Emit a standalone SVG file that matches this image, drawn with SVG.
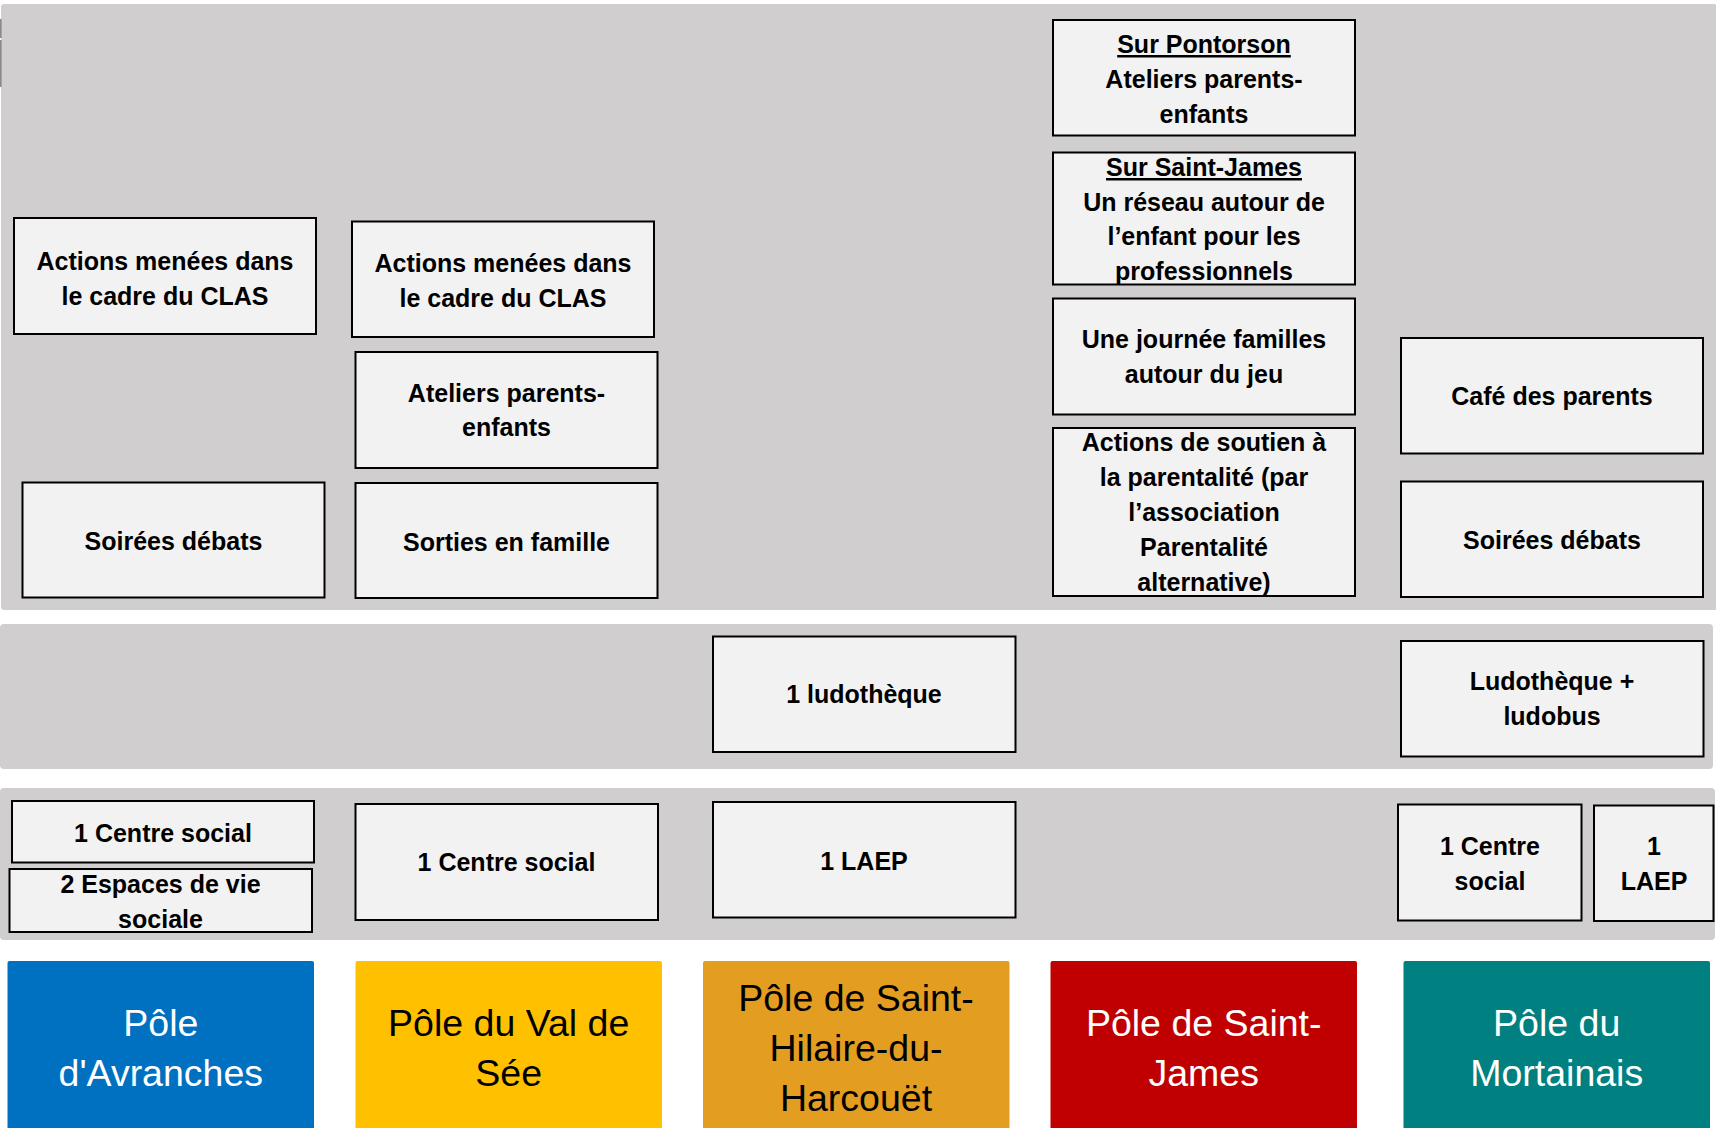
<svg xmlns="http://www.w3.org/2000/svg" width="1716" height="1128" viewBox="0 0 1716 1128">
<style>
.band{fill:#D0CECE}
.box{fill:#F2F2F2;stroke:#000;stroke-width:2}
.t{font-family:"Liberation Sans",Arial,sans-serif;font-weight:bold;font-size:25px;fill:#000;text-anchor:middle}
.u{text-decoration:underline}
.p{font-family:"Liberation Sans",Arial,sans-serif;font-size:37.5px;fill:#fff;text-anchor:middle}
.pk{fill:#000}
</style>
<rect width="1716" height="1128" fill="#fff"/>
<g id="bands">
<rect class="band" x="1" y="4" width="1716" height="606" rx="3"/>
<rect class="band" x="0" y="624" width="1713" height="145" rx="4"/>
<rect class="band" x="0" y="788" width="1715" height="152" rx="4"/>
<line x1="0.8" y1="19" x2="0.8" y2="38" stroke="#8a8a8a" stroke-width="1.6"/>
<line x1="0.8" y1="40" x2="0.8" y2="87" stroke="#8a8a8a" stroke-width="1.6"/>
</g>
<g id="av-clas"><rect class="box" x="14" y="218" width="302" height="116"/>
<text class="t" x="165" y="270">Actions menées dans</text><text class="t" x="165" y="304.5">le cadre du CLAS</text></g>
<g id="av-soirees"><rect class="box" x="22.5" y="482.5" width="302" height="115"/>
<text class="t" x="173.5" y="549.5">Soirées débats</text></g>
<g id="vs-clas"><rect class="box" x="352" y="221.5" width="302" height="115.5"/>
<text class="t" x="503" y="272">Actions menées dans</text><text class="t" x="503" y="306.5">le cadre du CLAS</text></g>
<g id="vs-ateliers"><rect class="box" x="355.5" y="352" width="302" height="116"/>
<text class="t" x="506.5" y="401.5">Ateliers parents-</text><text class="t" x="506.5" y="435.5">enfants</text></g>
<g id="vs-sorties"><rect class="box" x="355.5" y="483" width="302" height="115"/>
<text class="t" x="506.5" y="550.5">Sorties en famille</text></g>
<g id="sj-pontorson"><rect class="box" x="1053" y="20" width="302" height="115.5"/>
<text class="t u" x="1204" y="53">Sur Pontorson</text><text class="t" x="1204" y="88">Ateliers parents-</text><text class="t" x="1204" y="122.5">enfants</text></g>
<g id="sj-saintjames"><rect class="box" x="1053" y="152.5" width="302" height="132"/>
<text class="t u" x="1204" y="176">Sur Saint-James</text><text class="t" x="1204" y="210.5">Un réseau autour de</text><text class="t" x="1204" y="245">l’enfant pour les</text><text class="t" x="1204" y="280">professionnels</text></g>
<g id="sj-journee"><rect class="box" x="1053" y="298.5" width="302" height="116"/>
<text class="t" x="1204" y="348">Une journée familles</text><text class="t" x="1204" y="383">autour du jeu</text></g>
<g id="sj-soutien"><rect class="box" x="1053" y="428" width="302" height="168"/>
<text class="t" x="1204" y="451">Actions de soutien à</text><text class="t" x="1204" y="486">la parentalité (par</text><text class="t" x="1204" y="521">l’association</text><text class="t" x="1204" y="556">Parentalité</text><text class="t" x="1204" y="591">alternative)</text></g>
<g id="mo-cafe"><rect class="box" x="1401" y="338" width="302" height="115.5"/>
<text class="t" x="1552" y="405">Café des parents</text></g>
<g id="mo-soirees"><rect class="box" x="1401" y="481.5" width="302" height="115.5"/>
<text class="t" x="1552" y="549">Soirées débats</text></g>
<g id="sh-ludo"><rect class="box" x="713" y="636.5" width="302.5" height="115.5"/>
<text class="t" x="864" y="703">1 ludothèque</text></g>
<g id="mo-ludo"><rect class="box" x="1401" y="641" width="302.5" height="115.5"/>
<text class="t" x="1552" y="690">Ludothèque +</text><text class="t" x="1552" y="725">ludobus</text></g>
<g id="av-centre"><rect class="box" x="12" y="801" width="302" height="61.5"/>
<text class="t" x="163" y="842">1 Centre social</text></g>
<g id="av-evs"><rect class="box" x="9.5" y="869" width="302.5" height="63"/>
<text class="t" x="160.5" y="893">2 Espaces de vie</text><text class="t" x="160.5" y="927.5">sociale</text></g>
<g id="vs-centre"><rect class="box" x="355.5" y="804" width="302.5" height="116"/>
<text class="t" x="506.5" y="871">1 Centre social</text></g>
<g id="sh-laep"><rect class="box" x="713" y="802" width="302.5" height="115.5"/>
<text class="t" x="864" y="869.5">1 LAEP</text></g>
<g id="mo-centre"><rect class="box" x="1398" y="804.5" width="183.5" height="116"/>
<text class="t" x="1490" y="855">1 Centre</text><text class="t" x="1490" y="890">social</text></g>
<g id="mo-laep"><rect class="box" x="1594" y="805.5" width="119.5" height="115.5"/>
<text class="t" x="1654" y="855">1</text><text class="t" x="1654" y="890">LAEP</text></g>
<g id="pole-avranches"><rect x="7.5" y="961" width="306.5" height="170" rx="2" fill="#0070C0"/>
<text class="p" x="160.8" y="1036">Pôle</text><text class="p" x="160.8" y="1086">d'Avranches</text></g>
<g id="pole-valdesee"><rect x="355.5" y="961" width="306.5" height="170" rx="2" fill="#FFC000"/>
<text class="p pk" x="508.7" y="1036">Pôle du Val de</text><text class="p pk" x="508.7" y="1086">Sée</text></g>
<g id="pole-sainthilaire"><rect x="703" y="961" width="306.5" height="170" rx="2" fill="#E39D21"/>
<text class="p pk" x="856" y="1011">Pôle de Saint-</text><text class="p pk" x="856" y="1061">Hilaire-du-</text><text class="p pk" x="856" y="1111">Harcouët</text></g>
<g id="pole-saintjames"><rect x="1050.5" y="961" width="306.5" height="170" rx="2" fill="#C00000"/>
<text class="p" x="1203.7" y="1036">Pôle de Saint-</text><text class="p" x="1203.7" y="1086">James</text></g>
<g id="pole-mortainais"><rect x="1403.5" y="961" width="306.5" height="170" rx="2" fill="#008080"/>
<text class="p" x="1556.7" y="1036">Pôle du</text><text class="p" x="1556.7" y="1086">Mortainais</text></g>
</svg>
